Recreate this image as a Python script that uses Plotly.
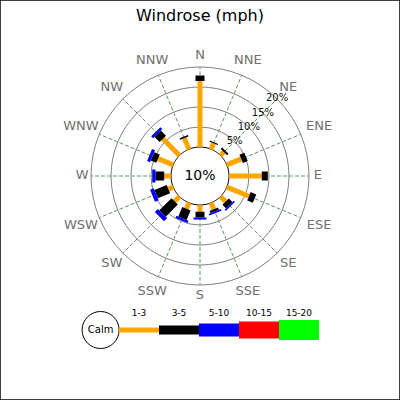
import math
import plotly.graph_objects as go

# ---------------- data ----------------
directions = ["N", "NNE", "NE", "ENE", "E", "ESE", "SE", "SSE",
              "S", "SSW", "SW", "WSW", "W", "WNW", "NW", "NNW"]
speed_bins = ["1-3", "3-5", "5-10", "10-15", "15-20"]
calm_pct = 10
freq_1_3 = [16.5, 1.6, 1.2, 3.9, 8.2, 6.0, 1.8, 1.75, 1.7, 1.6, 1.7, 1.3, 1.7, 4.1, 5.9, 3.0]
freq_3_5 = [1.4, 0.3, 0.5, 1.3, 1.5, 1.5, 1.3, 0.6, 1.4, 2.6, 4.3, 3.3, 2.2, 1.5, 1.8, 0.4]
freq_5_10 = [0, 0, 0, 0, 0, 0, 0.4, 0.45, 0.5, 0.6, 1.1, 1.0, 0.8, 0.8, 0.7, 0]
freq_10_15 = [0] * 16
freq_15_20 = [0] * 16
radial_ticks = [5, 10, 15, 20]

series = [freq_1_3, freq_3_5, freq_5_10, freq_10_15, freq_15_20]
colors = ["#FFA500", "#000000", "#0000FF", "#FF0000", "#00FF00"]
widths = [5, 9, 13, 17, 20]

# layout constants (pixels) for the rose
CX, CY = 200.0, 176.0   # centre of rose in page pixels
R_OUT = 109.0           # pixel radius of 20 % ring
R_CALM = 29.0           # pixel radius of calm circle (r = 0)
R_FRAME = 150.0         # pixel radius of the whole polar area (room for labels)
PX_PER_UNIT = (R_OUT - R_CALM) / 20.0
R_MIN = -R_CALM / PX_PER_UNIT
R_MAX = (R_FRAME - R_CALM) / PX_PER_UNIT

step = 360 / len(directions)
dir_angle = {d: i * step for i, d in enumerate(directions)}

fig = go.Figure()

# dashed compass spokes from calm circle to outer ring
sp_r, sp_t = [], []
for d in directions:
    sp_r += [0, radial_ticks[-1], None]
    sp_t += [dir_angle[d], dir_angle[d], None]
fig.add_trace(go.Scatterpolar(
    r=sp_r, theta=sp_t, mode="lines", connectgaps=False,
    line=dict(color="#5c995c", width=1, dash="4px,2px"),
    hoverinfo="skip", showlegend=False, subplot="polar"))

# calm circle (r = 0 boundary)
circle_theta = [i * 2 for i in range(181)]
fig.add_trace(go.Scatterpolar(
    r=[0] * len(circle_theta), theta=circle_theta,
    mode="lines", line=dict(color="black", width=1),
    fill="toself", fillcolor="white", hoverinfo="skip", showlegend=False,
    subplot="polar"))

# stacked radial segments
base = [0.0] * len(directions)
for vals, col, w in zip(series, colors, widths):
    rr, tt = [], []
    for i, d in enumerate(directions):
        if vals[i] > 0:
            rr += [base[i], base[i] + vals[i], None]
            tt += [dir_angle[d], dir_angle[d], None]
        base[i] += vals[i]
    if rr:
        fig.add_trace(go.Scatterpolar(
            r=rr, theta=tt, mode="lines", connectgaps=False,
            line=dict(color=col, width=w), hoverinfo="skip",
            showlegend=False, subplot="polar"))

# radial labels along NE
fig.add_trace(go.Scatterpolar(
    r=radial_ticks, theta=[dir_angle["NE"]] * len(radial_ticks), mode="text",
    text=[f"{v}%" for v in radial_ticks],
    textfont=dict(family="DejaVu Sans", size=10, color="#111"),
    hoverinfo="skip", showlegend=False, subplot="polar"))

# calm percentage in the centre
fig.add_trace(go.Scatterpolar(
    r=[R_MIN], theta=[0], mode="text", text=[f"{calm_pct}%"],
    textfont=dict(family="DejaVu Sans", size=14, color="black"),
    hoverinfo="skip", showlegend=False, subplot="polar"))

# compass labels just outside the outer ring
lab_r = []
for d in directions:
    a = math.radians(dir_angle[d])
    half_w = len(d) * 9.5 / 2
    px = 113 + half_w * abs(math.sin(a)) + 7 * abs(math.cos(a))
    lab_r.append(px / PX_PER_UNIT + R_MIN)
fig.add_trace(go.Scatterpolar(
    r=lab_r, theta=[dir_angle[d] for d in directions], mode="text",
    text=directions,
    textfont=dict(family="DejaVu Sans", size=13, color="#707070"),
    hoverinfo="skip", showlegend=False, subplot="polar"))

# ---------------- custom legend ----------------
fig.add_trace(go.Scatter(
    x=[-0.46], y=[0.5], mode="markers+text", text=["Calm"],
    textposition="middle center",
    textfont=dict(family="DejaVu Sans", size=10, color="black"),
    marker=dict(symbol="circle", size=37, color="white",
                line=dict(color="black", width=1)),
    hoverinfo="skip", showlegend=False, xaxis="x", yaxis="y"))
for k, (lab, col, w) in enumerate(zip(speed_bins, colors, widths)):
    fig.add_trace(go.Scatter(
        x=[k, k + 1], y=[0.5, 0.5], mode="lines",
        line=dict(color=col, width=w), hoverinfo="skip",
        showlegend=False, xaxis="x", yaxis="y"))
fig.add_trace(go.Scatter(
    x=[k + 0.5 for k in range(len(speed_bins))], y=[0.82] * len(speed_bins),
    mode="text", text=speed_bins, textposition="middle center",
    textfont=dict(family="DejaVu Sans", size=9, color="black"),
    hoverinfo="skip", showlegend=False, xaxis="x", yaxis="y"))

W = H = 400.0
fig.update_layout(
    width=400, height=400,
    margin=dict(l=0, r=0, t=0, b=0),
    paper_bgcolor="white", plot_bgcolor="rgba(0,0,0,0)",
    showlegend=False,
    title=dict(text="Windrose (mph)", x=0.5, xanchor="center",
               y=1 - 15 / 400, yanchor="middle",
               font=dict(family="DejaVu Sans", size=16, color="black")),
    polar=dict(
        domain=dict(x=[(CX - R_FRAME) / W, (CX + R_FRAME) / W],
                    y=[1 - (CY + R_FRAME) / H, 1 - (CY - R_FRAME) / H]),
        bgcolor="rgba(0,0,0,0)",
        radialaxis=dict(range=[R_MIN, R_MAX], tickvals=radial_ticks,
                        showticklabels=False, ticks="", showline=False,
                        gridcolor="#808080", gridwidth=1),
        angularaxis=dict(direction="clockwise", rotation=90,
                         showticklabels=False, ticks="", showline=False,
                         showgrid=False),
    ),
    xaxis=dict(domain=[79 / 400, 339 / 400], range=[-1, 5.5], visible=False,
               fixedrange=True),
    yaxis=dict(domain=[1 - 355 / 400, 1 - 305 / 400], range=[0, 1], visible=False,
               fixedrange=True),
    shapes=[dict(type="rect", xref="paper", yref="paper", x0=0, x1=1, y0=0, y1=1,
                 line=dict(color="black", width=1.5), fillcolor="rgba(0,0,0,0)")],
)

fig.write_html("out.html", config={"displayModeBar": False, "staticPlot": True},
               post_script="document.body.style.margin='0px';")
